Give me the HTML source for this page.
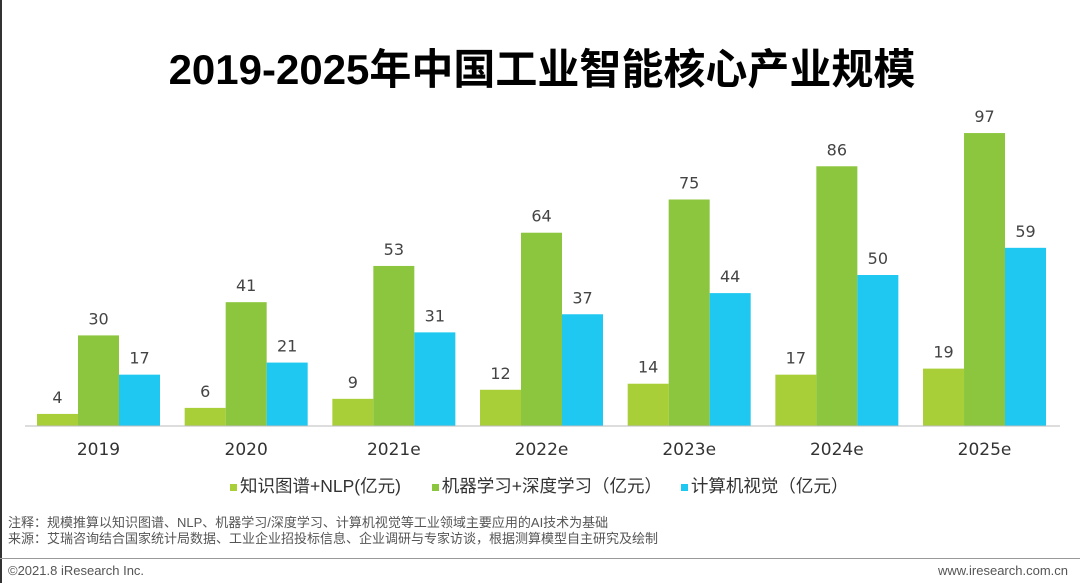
<!DOCTYPE html>
<html><head><meta charset="utf-8"><style>
body{margin:0;width:1080px;height:583px;background:#fff;overflow:hidden;position:relative;font-family:"Liberation Sans","Noto Sans CJK SC",sans-serif}
.t{position:absolute;white-space:nowrap}
</style></head><body>
<div style="position:absolute;left:0;top:0;width:2px;height:583px;background:#333"></div>
<div class="t" style="left:0;width:1084px;text-align:center;top:36px;font-size:42px;font-weight:bold;color:#000">2019-2025年中国工业智能核心产业规模</div>
<svg id="c" width="1080" height="470" style="position:absolute;left:0;top:0"></svg>
<div class="t" style="left:230px;top:473px;font-size:17.5px;color:#333">
<span><span style="display:inline-block;width:7px;height:7px;background:#a9cf38;margin-right:3px;vertical-align:middle"></span>知识图谱+NLP(亿元)</span>
<span style="margin-left:26px"><span style="display:inline-block;width:7px;height:7px;background:#8cc63e;margin-right:3px;vertical-align:middle"></span>机器学习+深度学习（亿元）</span>
<span style="margin-left:14px"><span style="display:inline-block;width:7px;height:7px;background:#1ec8f0;margin-right:3px;vertical-align:middle"></span>计算机视觉（亿元）</span>
</div>
<div class="t" style="left:8px;top:512px;font-size:13px;color:#555">注释：规模推算以知识图谱、NLP、机器学习/深度学习、计算机视觉等工业领域主要应用的AI技术为基础</div>
<div class="t" style="left:8px;top:528px;font-size:13px;color:#555">来源：艾瑞咨询结合国家统计局数据、工业企业招投标信息、企业调研与专家访谈，根据测算模型自主研究及绘制</div>
<div style="position:absolute;left:0;top:558px;width:1080px;height:1px;background:#999"></div>
<div class="t" style="left:8px;top:563px;font-size:13px;color:#555">©2021.8 iResearch Inc.</div>
<div class="t" style="right:12px;top:563px;font-size:13px;color:#555">www.iresearch.com.cn</div>
<script>
const categories=["2019","2020","2021e","2022e","2023e","2024e","2025e"];
const kgNlp=[4,6,9,12,14,17,19];
const mlDl=[30,41,53,64,75,86,97];
const cv=[17,21,31,37,44,50,59];
const series=[kgNlp,mlDl,cv];
const colors=["#a9cf38","#8cc63e","#1ec8f0"];
const names=["kg-nlp","ml-dl","cv"];
const svg=document.getElementById('c');const NS="http://www.w3.org/2000/svg";
const base=426,k=3.02,x0=98.5,step=147.67,bw=41;
const y=v=>base-v*k;
const xc=i=>x0+i*step;
function mk(t,a){const e=document.createElementNS(NS,t);for(const n in a)e.setAttribute(n,a[n]);svg.appendChild(e);return e;}
categories.forEach((c,i)=>{
 series.forEach((s,j)=>{
  const x=xc(i)+(j-1.5)*bw;
  const r=mk('rect',{x:x,y:y(s[i]),width:bw,height:s[i]*k,fill:colors[j]});
  
  
  const t=mk('text',{x:x+bw/2,y:y(s[i])-11,'text-anchor':'middle','font-size':16,fill:'#444','font-family':'DejaVu Sans, sans-serif'});
  t.textContent=s[i];
  
  
 });
 const l=mk('text',{x:xc(i),y:455,'text-anchor':'middle','font-size':17,fill:'#333','font-family':'DejaVu Sans, sans-serif'});
 l.textContent=c;
 
 
});
const ax=mk('line',{x1:25,x2:1060,y1:base,y2:base,stroke:'#bbb','stroke-width':1});


</script>
</body></html>
